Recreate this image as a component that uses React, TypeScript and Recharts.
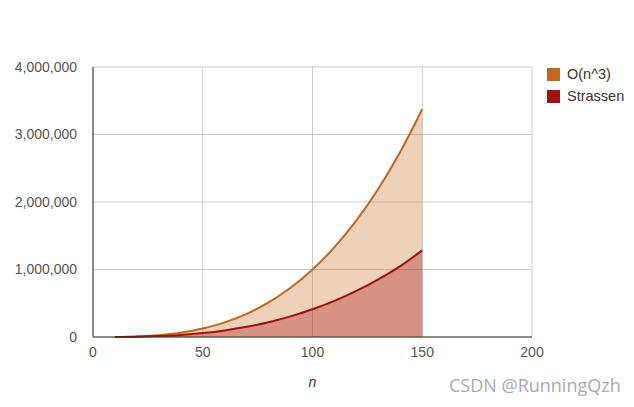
import { AreaChart, Area, XAxis, YAxis, CartesianGrid } from 'recharts';

const nValues = [10, 20, 30, 40, 50, 60, 70, 80, 90, 100, 110, 120, 130, 140, 150];
const cubicValues = [1000, 8000, 27000, 64000, 125000, 216000, 343000, 512000, 729000, 1000000, 1331000, 1728000, 2197000, 2744000, 3375000];
const strassenValues = [640, 4500, 14000, 31400, 58600, 97700, 150600, 219000, 305000, 411000, 536000, 684000, 855000, 1050000, 1283000];
const xTicks = [0, 50, 100, 150, 200];
const yTicks = [0, 1000000, 2000000, 3000000, 4000000];
const seriesNames = ['O(n^3)', 'Strassen'];

const ORANGE = '#c4661c';
const RED = '#a50f0f';

const data = nValues.map((n, i) => ({ n, cubic: cubicValues[i], strassen: strassenValues[i] }));

const fmt = (v: number) => v.toLocaleString('en-US');

export default function App() {
  return (
    <div style={{ position: 'absolute', left: 0, top: 0, width: 634, height: 407, background: '#fff', fontFamily: 'Arial, "Liberation Sans", sans-serif' }}>
      <AreaChart width={634} height={407} data={data} margin={{ top: 67, right: 102, left: 0, bottom: 20 }}>
        <CartesianGrid stroke="#cccccc" />
        <XAxis
          dataKey="n"
          type="number"
          domain={[0, 200]}
          ticks={xTicks}
          height={50}
          tickLine={false}
          tickMargin={4}
          axisLine={{ stroke: '#333333' }}
          tick={{ fill: '#555555', fontSize: 14 }}
          label={{ value: 'n', position: 'insideBottom', offset: 0, fill: '#333333', fontSize: 14, fontStyle: 'italic' }}
        />
        <YAxis
          type="number"
          domain={[0, 4000000]}
          ticks={yTicks}
          width={93}
          tickLine={false}
          tickMargin={10}
          axisLine={{ stroke: '#333333' }}
          tick={{ fill: '#555555', fontSize: 14 }}
          tickFormatter={fmt}
        />
        <Area type="monotone" dataKey="cubic" name={seriesNames[0]} stroke={ORANGE} strokeWidth={2} fill={ORANGE} fillOpacity={0.3} isAnimationActive={false} />
        <Area type="monotone" dataKey="strassen" name={seriesNames[1]} stroke={RED} strokeWidth={2} fill={RED} fillOpacity={0.32} isAnimationActive={false} />
      </AreaChart>
      {[ORANGE, RED].map((c, i) => (
        <div key={i} style={{ position: 'absolute', left: 547, top: 66 + i * 22, height: 16, display: 'flex', alignItems: 'center', fontSize: 14.5, color: '#333' }}>
          <div style={{ width: 13, height: 13, background: c, marginRight: 7 }} />
          <span>{seriesNames[i]}</span>
        </div>
      ))}
      <div style={{ position: 'absolute', left: 449, top: 373, fontSize: 18, color: '#aaaaaa', fontFamily: '"Open Sans", sans-serif' }}>CSDN @RunningQzh</div>
    </div>
  );
}
